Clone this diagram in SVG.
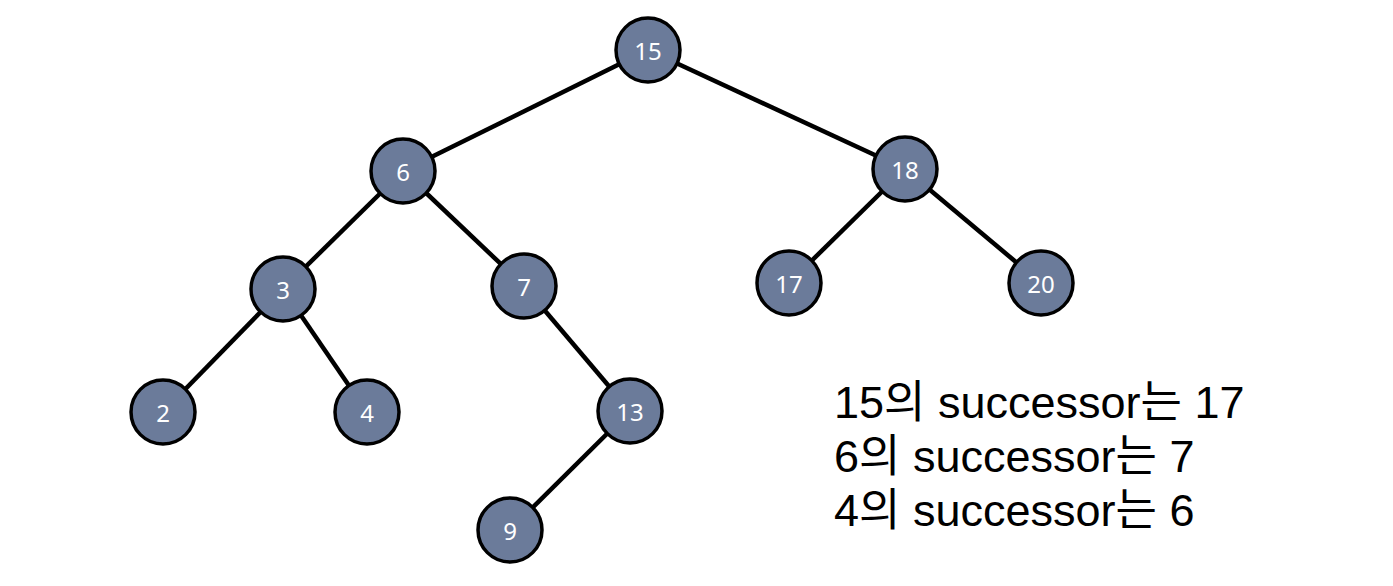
<svg xmlns="http://www.w3.org/2000/svg" width="1393" height="586" viewBox="0 0 1393 586">
<style>
.n circle{fill:#6b7b9a;stroke:#000;stroke-width:3.5}
.n text{fill:#fff;font-family:"Noto Sans","Liberation Sans",sans-serif;font-size:24px;text-anchor:middle;dominant-baseline:central}
.e line{stroke:#000;stroke-width:4.5}
.t{font-family:"Liberation Sans","Noto Sans CJK KR",sans-serif;font-size:45px;fill:#000}
</style>
<rect width="1393" height="586" fill="#fff"/>
<g id="connectors" class="e">
<line x1="648" y1="50" x2="403" y2="171"/>
<line x1="648" y1="50" x2="905" y2="169"/>
<line x1="403" y1="171" x2="283" y2="289"/>
<line x1="403" y1="171" x2="524" y2="286"/>
<line x1="905" y1="169" x2="789" y2="283"/>
<line x1="905" y1="169" x2="1041" y2="283"/>
<line x1="283" y1="289" x2="163" y2="412"/>
<line x1="283" y1="289" x2="367" y2="412"/>
<line x1="524" y1="286" x2="630" y2="411"/>
<line x1="630" y1="411" x2="510" y2="530"/>
</g>
<g id="n15" class="n"><circle cx="648" cy="50" r="32"/><text x="648" y="50">15</text></g>
<g id="n6" class="n"><circle cx="403" cy="171" r="32"/><text x="403" y="171">6</text></g>
<g id="n18" class="n"><circle cx="905" cy="169" r="32"/><text x="905" y="169">18</text></g>
<g id="n3" class="n"><circle cx="283" cy="289" r="32"/><text x="283" y="289">3</text></g>
<g id="n7" class="n"><circle cx="524" cy="286" r="32"/><text x="524" y="286">7</text></g>
<g id="n17" class="n"><circle cx="789" cy="283" r="32"/><text x="789" y="283">17</text></g>
<g id="n20" class="n"><circle cx="1041" cy="283" r="32"/><text x="1041" y="283">20</text></g>
<g id="n2" class="n"><circle cx="163" cy="412" r="32"/><text x="163" y="412">2</text></g>
<g id="n4" class="n"><circle cx="367" cy="412" r="32"/><text x="367" y="412">4</text></g>
<g id="n13" class="n"><circle cx="630" cy="411" r="32"/><text x="630" y="411">13</text></g>
<g id="n9" class="n"><circle cx="510" cy="530" r="32"/><text x="510" y="530">9</text></g>
<g id="caption" class="t">
<text x="834" y="418">15의 successor는 17</text>
<text x="834" y="472">6의 successor는 7</text>
<text x="834" y="526">4의 successor는 6</text>
</g>
</svg>
